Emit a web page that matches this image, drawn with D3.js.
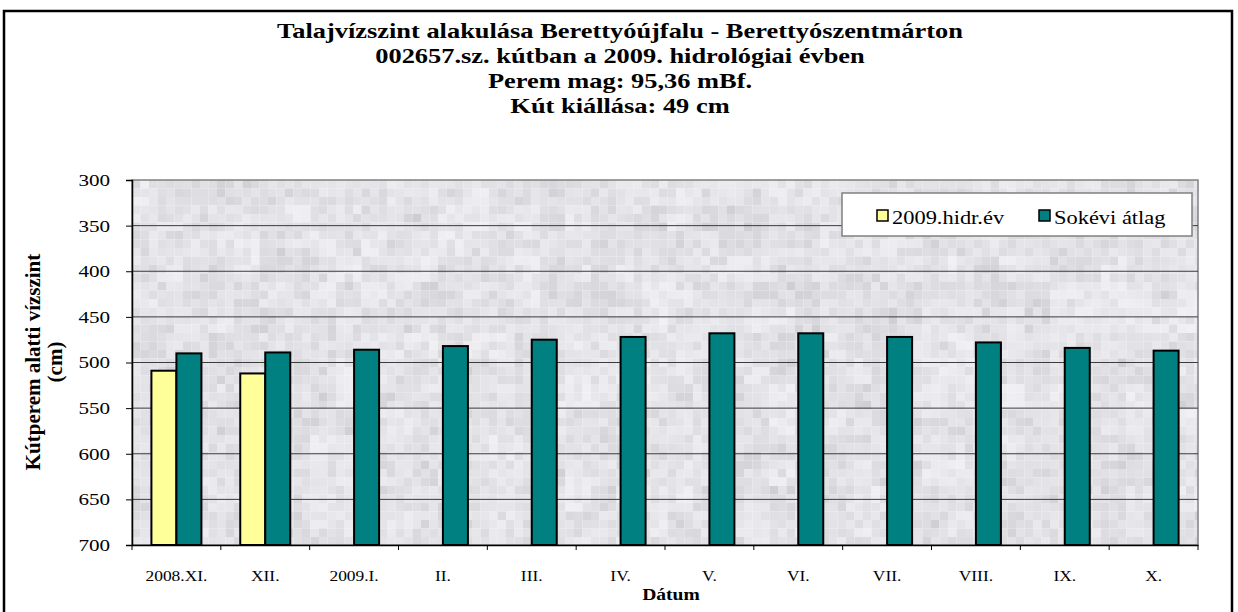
<!DOCTYPE html>
<html lang="hu">
<head>
<meta charset="UTF-8" />
<title>Talajvízszint</title>
<script src="https://d3js.org/d3.v7.min.js"></script>
<style>
  body { margin: 0; background: #fff; }
  svg text { font-family: "Liberation Serif", "Times New Roman", serif; fill: #000; }
</style>
</head>
<body>
<svg width="1238" height="612"></svg>
<script>
// data
const months = ["2008.XI.", "XII.", "2009.I.", "II.", "III.", "IV.", "V.", "VI.", "VII.", "VIII.", "IX.", "X."];
const hidr2009 = [509, 512, null, null, null, null, null, null, null, null, null, null];
const sokevi = [490, 489, 486, 482, 475, 472, 468, 468, 472, 478, 484, 487];
const yTicks = [300, 350, 400, 450, 500, 550, 600, 650, 700];
const titleLines = [
  "Talajvízszint alakulása Berettyóújfalu - Berettyószentmárton",
  "002657.sz. kútban a 2009. hidrológiai évben",
  "Perem mag: 95,36 mBf.",
  "Kút kiállása: 49 cm"
];
const seriesNames = ["2009.hidr.év", "Sokévi átlag"];
const colors = ["#ffff99", "#008080"];

const svg = d3.select("svg");
const plot = { left: 132, right: 1198, top: 180, bottom: 545 };
const SX = 1.24; // the original chart's text is drawn a bit wide

function widen(sel, k = SX) {
  sel.each(function () {
    const w = this.getComputedTextLength();
    d3.select(this).attr("textLength", w * k).attr("lengthAdjust", "spacingAndGlyphs");
  });
}

// outer frame
svg.append("rect")
  .attr("x", 4).attr("y", 11).attr("width", 1228).attr("height", 610)
  .attr("fill", "none").attr("stroke", "#000").attr("stroke-width", 2.5);

// title
const title = svg.append("g").selectAll("text")
  .data(titleLines).join("text")
  .attr("x", 620)
  .attr("y", (d, i) => 38 + i * 25)
  .attr("text-anchor", "middle")
  .attr("font-size", 22)
  .attr("font-weight", "bold")
  .text(d => d);
widen(title, 1.2);

const x = d3.scaleBand().domain(months).range([plot.left, plot.right]);
const y = d3.scaleLinear().domain([300, 700]).range([plot.top, plot.bottom]);
const barW = 25;

// mottled grey fill of the plot area (decoration only)
const hash = (i, j) => Math.abs(Math.sin(i * 12.9898 + j * 78.233) * 43758.5453) % 1;
const cell = 8.5;
const bg = svg.append("g");
const nx = Math.ceil((plot.right - plot.left) / cell);
const ny = Math.ceil((plot.bottom - plot.top) / cell);
for (let i = 0; i < nx; i++) {
  for (let j = 0; j < ny; j++) {
    const h = hash(i, j);
    const big = hash(Math.floor(i / 3) + 101, Math.floor(j / 3) + 57);
    const g = Math.round(204 + Math.sqrt(h) * 22 + big * 14);
    bg.append("rect")
      .attr("x", plot.left + i * cell).attr("y", plot.top + j * cell)
      .attr("width", Math.min(cell, plot.right - plot.left - i * cell))
      .attr("height", Math.min(cell, plot.bottom - plot.top - j * cell))
      .attr("fill", `rgb(${g},${g},${Math.min(g + 5, 246)})`);
  }
}
svg.append("rect")
  .attr("x", plot.left).attr("y", plot.top)
  .attr("width", plot.right - plot.left).attr("height", plot.bottom - plot.top)
  .attr("fill", "none")
  .attr("stroke", "#808080").attr("stroke-width", 1.5);

// gridlines
svg.append("g").selectAll("line")
  .data(yTicks.slice(1, -1)).join("line")
  .attr("x1", plot.left).attr("x2", plot.right)
  .attr("y1", d => y(d)).attr("y2", d => y(d))
  .attr("stroke", "#3c3c3c").attr("stroke-width", 1);

// bars
const bars = svg.append("g").attr("stroke", "#000").attr("stroke-width", 2);
[hidr2009, sokevi].forEach((vals, s) => {
  bars.append("g").selectAll("rect")
    .data(vals.map((v, i) => ({ m: months[i], v })).filter(d => d.v != null))
    .join("rect")
    .attr("x", d => x(d.m) + x.bandwidth() / 2 - barW + s * barW)
    .attr("width", barW)
    .attr("y", d => y(d.v))
    .attr("height", d => plot.bottom - y(d.v))
    .attr("fill", colors[s]);
});

// y axis
const yAxis = svg.append("g")
  .attr("transform", `translate(${plot.left},0)`)
  .call(d3.axisLeft(y).tickValues(yTicks).tickSize(6).tickPadding(16));
yAxis.select(".domain").attr("stroke", "#000").attr("stroke-width", 1.5);
yAxis.selectAll(".tick line").attr("stroke", "#000");
yAxis.selectAll(".tick text")
  .attr("font-size", 17).attr("font-family", "Liberation Serif, serif");
widen(yAxis.selectAll(".tick text"));

// x axis
const xAxis = svg.append("g")
  .attr("transform", `translate(0,${plot.bottom})`)
  .call(d3.axisBottom(x).tickSize(0).tickPadding(26));
xAxis.select(".domain").attr("stroke", "#000").attr("stroke-width", 1.5);
xAxis.selectAll(".tick text")
  .attr("font-size", 14.5).attr("font-family", "Liberation Serif, serif");
widen(xAxis.selectAll(".tick text"), 1.2);
svg.append("g").selectAll("line")
  .data(d3.range(months.length + 1)).join("line")
  .attr("x1", i => plot.left + i * x.step()).attr("x2", i => plot.left + i * x.step())
  .attr("y1", plot.bottom).attr("y2", plot.bottom + 5)
  .attr("stroke", "#000");

// axis titles
const xt = svg.append("text")
  .attr("x", 671).attr("y", 600)
  .attr("text-anchor", "middle")
  .attr("font-size", 17).attr("font-weight", "bold")
  .text("Dátum");
widen(xt, 1.15);
const yt = svg.append("text")
  .attr("transform", "translate(40,362) rotate(-90)")
  .attr("text-anchor", "middle")
  .attr("font-size", 21).attr("font-weight", "bold");
yt.append("tspan").attr("x", 0).attr("dy", 0).text("Kútperem alatti vízszint");
yt.append("tspan").attr("x", 0).attr("dy", 22).text("(cm)");

// legend
const lg = svg.append("g");
lg.append("rect")
  .attr("x", 842).attr("y", 193).attr("width", 350).attr("height", 43)
  .attr("fill", "#fff").attr("stroke", "#808080").attr("stroke-width", 1.5);
const legX = [877, 1039];
seriesNames.forEach((n, i) => {
  lg.append("rect")
    .attr("x", legX[i]).attr("y", 210).attr("width", 11).attr("height", 11)
    .attr("fill", colors[i]).attr("stroke", "#000").attr("stroke-width", 1.5);
  const t = lg.append("text")
    .attr("x", legX[i] + 15).attr("y", 224)
    .attr("font-size", 19)
    .text(n);
  widen(t, 1.18);
});
</script>
</body>
</html>
